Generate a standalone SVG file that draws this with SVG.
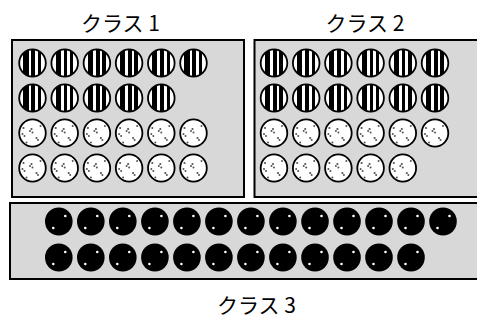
<svg xmlns="http://www.w3.org/2000/svg" xmlns:xlink="http://www.w3.org/1999/xlink" width="477" height="320" viewBox="0 0 477 320">
<style>
.box{fill:#d8d8d8;stroke:#000;stroke-width:2}
.lbl{font-family:"Noto Sans CJK JP","DejaVu Sans",sans-serif;font-size:21px;fill:#000;text-anchor:middle}
</style>
<defs>
<linearGradient id="stripe" x1="0" y1="0" x2="1" y2="0">
<stop offset="0" stop-color="#fff"/><stop offset="0.16" stop-color="#fff"/>
<stop offset="0.16" stop-color="#000"/><stop offset="0.35" stop-color="#000"/>
<stop offset="0.35" stop-color="#fff"/><stop offset="0.46" stop-color="#fff"/>
<stop offset="0.46" stop-color="#000"/><stop offset="0.60" stop-color="#000"/>
<stop offset="0.60" stop-color="#fff"/><stop offset="0.70" stop-color="#fff"/>
<stop offset="0.70" stop-color="#000"/><stop offset="0.83" stop-color="#000"/>
<stop offset="0.83" stop-color="#fff"/><stop offset="1" stop-color="#fff"/>
</linearGradient>
<symbol id="s" overflow="visible"><ellipse cx="0" cy="0" rx="13.3" ry="13.6" fill="url(#stripe)" stroke="#000" stroke-width="1.8"/></symbol>
<symbol id="d" overflow="visible"><ellipse cx="0" cy="0" rx="13.3" ry="13.6" fill="#fff" stroke="#000" stroke-width="1.8"/>
<g fill="#555"><circle cx="-9" cy="-5" r="1.1"/><circle cx="-10" cy="1" r="1"/><circle cx="-8" cy="3" r="1"/><circle cx="-1" cy="-4" r="1.1"/><circle cx="-2.5" cy="-2" r="1"/><circle cx="0" cy="-0.5" r="1"/><circle cx="4" cy="5" r="1.1"/><circle cx="5.5" cy="7" r="1"/><circle cx="8" cy="-7" r="1"/><circle cx="-6" cy="9.5" r="1"/></g></symbol>
<symbol id="b" overflow="visible"><ellipse cx="0" cy="0" rx="13.8" ry="14" fill="#000"/>
<circle cx="6.5" cy="-5.5" r="1.3" fill="#fff"/><circle cx="-5.5" cy="6.5" r="1.3" fill="#fff"/></symbol>
</defs>
<g id="class1">
<rect class="box" x="12" y="40" width="232" height="157"/>
<text class="lbl" x="120.5" y="31">クラス 1</text>
<use href="#s" x="32.5" y="63"/><use href="#s" x="64.7" y="63"/><use href="#s" x="96.9" y="63"/><use href="#s" x="129.1" y="63"/><use href="#s" x="161.3" y="63"/><use href="#s" x="193.5" y="63"/>
<use href="#s" x="32.5" y="98"/><use href="#s" x="64.7" y="98"/><use href="#s" x="96.9" y="98"/><use href="#s" x="129.1" y="98"/><use href="#s" x="161.3" y="98"/>
<use href="#d" x="32.5" y="133"/><use href="#d" x="64.7" y="133"/><use href="#d" x="96.9" y="133"/><use href="#d" x="129.1" y="133"/><use href="#d" x="161.3" y="133"/><use href="#d" x="193.5" y="133"/>
<use href="#d" x="32.5" y="168"/><use href="#d" x="64.7" y="168"/><use href="#d" x="96.9" y="168"/><use href="#d" x="129.1" y="168"/><use href="#d" x="161.3" y="168"/><use href="#d" x="193.5" y="168"/>
</g>
<g id="class2">
<rect class="box" x="254.5" y="40" width="230" height="157"/>
<text class="lbl" x="365" y="31">クラス 2</text>
<use href="#s" x="274" y="63"/><use href="#s" x="306.2" y="63"/><use href="#s" x="338.4" y="63"/><use href="#s" x="370.6" y="63"/><use href="#s" x="402.8" y="63"/><use href="#s" x="435" y="63"/>
<use href="#s" x="274" y="98"/><use href="#s" x="306.2" y="98"/><use href="#s" x="338.4" y="98"/><use href="#s" x="370.6" y="98"/><use href="#s" x="402.8" y="98"/><use href="#s" x="435" y="98"/>
<use href="#d" x="274" y="133"/><use href="#d" x="306.2" y="133"/><use href="#d" x="338.4" y="133"/><use href="#d" x="370.6" y="133"/><use href="#d" x="402.8" y="133"/><use href="#d" x="435" y="133"/>
<use href="#d" x="274" y="168"/><use href="#d" x="306.2" y="168"/><use href="#d" x="338.4" y="168"/><use href="#d" x="370.6" y="168"/><use href="#d" x="402.8" y="168"/>
</g>
<g id="class3">
<rect class="box" x="10" y="203" width="475" height="76"/>
<text class="lbl" x="256.5" y="313">クラス 3</text>
<use href="#b" x="58.8" y="221.5"/><use href="#b" x="90.8" y="221.5"/><use href="#b" x="122.8" y="221.5"/><use href="#b" x="154.9" y="221.5"/><use href="#b" x="186.9" y="221.5"/><use href="#b" x="218.9" y="221.5"/><use href="#b" x="250.9" y="221.5"/><use href="#b" x="282.9" y="221.5"/><use href="#b" x="315" y="221.5"/><use href="#b" x="347" y="221.5"/><use href="#b" x="379" y="221.5"/><use href="#b" x="411" y="221.5"/><use href="#b" x="443" y="221.5"/>
<use href="#b" x="58.8" y="257.5"/><use href="#b" x="90.8" y="257.5"/><use href="#b" x="122.8" y="257.5"/><use href="#b" x="154.9" y="257.5"/><use href="#b" x="186.9" y="257.5"/><use href="#b" x="218.9" y="257.5"/><use href="#b" x="250.9" y="257.5"/><use href="#b" x="282.9" y="257.5"/><use href="#b" x="315" y="257.5"/><use href="#b" x="347" y="257.5"/><use href="#b" x="379" y="257.5"/><use href="#b" x="411" y="257.5"/>
</g>
<g id="connectors"/>
</svg>
